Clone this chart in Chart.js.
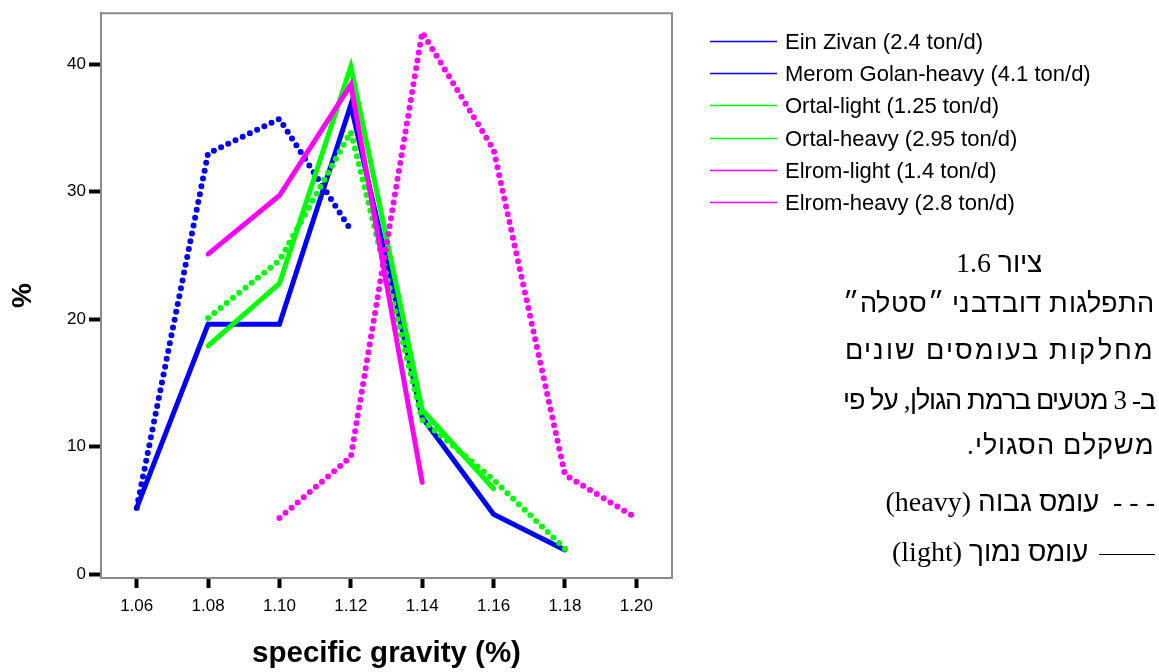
<!DOCTYPE html>
<html>
<head>
<meta charset="utf-8">
<script src="https://cdn.jsdelivr.net/npm/chart.js@4.4.1/dist/chart.umd.min.js"></script>
<style>
  @font-face {
    font-family: "HebSans";
    src: local("Liberation Sans"), local("LiberationSans-Regular"), local("DejaVu Sans");
    unicode-range: U+0590-05FF, U+FB1D-FB4F;
  }
  body { margin: 0; background: #fff; }
  #wrap { position: relative; width: 1159px; height: 672px; overflow: hidden; }
  #wrap canvas { position: absolute; left: 0; top: 0; }
  .heb {
    position: absolute; left: 800px; width: 355px; height: 34px;
    font-family: "HebSans", "Liberation Serif", serif; font-size: 27px; line-height: 34px;
    direction: rtl; text-align: right; color: #000; white-space: nowrap;
  }
  .heb.title { left: 843px; width: 312px; text-align: center; font-size: 28px; }
  .heb.key { font-size: 28px; }
  .rule { display: inline-block; width: 56px; border-top: 1px solid #000; vertical-align: middle; margin-left: 4px; }
</style>
</head>
<body>
<div id="wrap">
  <canvas id="chart" width="1159" height="672"></canvas>
  <div class="heb title" style="top:246px">ציור 1.6</div>
  <div class="heb fit" data-w="312" style="top:286px"><span>התפלגות דובדבני ״סטלה״</span></div>
  <div class="heb fit" data-w="310" style="top:333px"><span>מחלקות בעומסים שונים</span></div>
  <div class="heb fit" data-w="312" style="top:383px"><span>ב- 3 מטעים ברמת הגולן, על פי</span></div>
  <div class="heb fit" data-w="188" style="top:428px"><span>משקלם הסגולי.</span></div>
  <div class="heb key" style="top:485px">- - -&nbsp; עומס גבוה (heavy)</div>
  <div class="heb key" style="top:535px"><span class="rule"></span> עומס נמוך (light)</div>
</div>
<script>
// caption lines: stretch letter spacing so each line keeps its width
document.querySelectorAll('.fit').forEach(el => {
  const w = el.firstElementChild.getBoundingClientRect().width;
  const n = el.textContent.length;
  el.style.letterSpacing = ((+el.dataset.w - w) / n).toFixed(2) + 'px';
});

// specific gravity classes on the x axis
const xValues = [1.06, 1.08, 1.10, 1.12, 1.14, 1.16, 1.18, 1.20];
const xTickLabels = ['1.06', '1.08', '1.10', '1.12', '1.14', '1.16', '1.18', '1.20'];
const yTicks = [0, 10, 20, 30, 40];

const seriesNames = [
  'Ein Zivan (2.4 ton/d)',
  'Merom Golan-heavy (4.1 ton/d)',
  'Ortal-light (1.25 ton/d)',
  'Ortal-heavy (2.95 ton/d)',
  'Elrom-light (1.4 ton/d)',
  'Elrom-heavy (2.8 ton/d)'
];

// % of fruit per class, null = no value
const einZivan        = [5.2, 19.6, 19.6, 36.8, 12.3, 4.7, 1.9, null];
const meromGolanHeavy = [5.2, 33.0, 35.7, 27.0, null, null, null, null];
const ortalLight      = [null, 17.9, 22.8, 39.8, 12.9, 6.7, null, null];
const ortalHeavy      = [null, 20.1, 24.6, 34.7, 12.1, 7.4, 2.0, null];
const elromLight      = [null, 25.1, 29.7, 38.4, 7.2, null, null, null];
const elromHeavy      = [null, null, 4.4, 9.2, 42.5, 33.3, 7.8, 4.4];

const allSeries = [einZivan, meromGolanHeavy, ortalLight, ortalHeavy, elromLight, elromHeavy];

const blue = '#0000ff';
const green = '#00ff00';
const magenta = '#ff00ff';
const lineColors = [blue, blue, green, green, magenta, magenta];
const dotted = [false, true, false, true, false, true];

const points = vals => vals.map((v, i) => ({ x: xValues[i], y: v }));

const datasets = allSeries.map((vals, i) => ({
  label: seriesNames[i],
  data: points(vals),
  borderColor: lineColors[i],
  backgroundColor: lineColors[i],
  borderWidth: dotted[i] ? 6 : 5,
  borderDash: dotted[i] ? [0, 8] : [],
  borderCapStyle: 'round',
  borderJoinStyle: dotted[i] ? 'round' : 'miter',
  pointRadius: 0,
  tension: 0,
  order: allSeries.length - i
}));

const frameColor = '#8a8a8a';
const sans = '"Liberation Sans", Arial, sans-serif';

// top and right edge of the plot frame
const framePlugin = {
  id: 'frame',
  afterDraw(chart) {
    const { ctx, chartArea: a } = chart;
    ctx.save();
    ctx.strokeStyle = frameColor;
    ctx.lineWidth = 2;
    ctx.beginPath();
    ctx.moveTo(a.left, a.top);
    ctx.lineTo(a.right, a.top);
    ctx.lineTo(a.right, a.bottom);
    ctx.stroke();
    ctx.restore();
  }
};

// legend list on the right side
const sideLegend = {
  id: 'sideLegend',
  afterDraw(chart) {
    const ctx = chart.ctx;
    ctx.save();
    ctx.font = '22px ' + sans;
    ctx.textBaseline = 'middle';
    chart.data.datasets.forEach((ds, i) => {
      const y = Math.round(41 + i * 32.2) + 0.5;
      ctx.strokeStyle = ds.borderColor;
      ctx.lineWidth = 1.5;
      ctx.beginPath();
      ctx.moveTo(710, y);
      ctx.lineTo(777, y);
      ctx.stroke();
      ctx.fillStyle = '#000';
      ctx.fillText(ds.label, 785, y + 1);
    });
    ctx.restore();
  }
};

const tickFont = { family: sans, size: 17 };

new Chart(document.getElementById('chart'), {
  type: 'line',
  data: { datasets },
  options: {
    responsive: false,
    animation: false,
    devicePixelRatio: 1,
    layout: { padding: { top: 8, right: 487, left: 0, bottom: 0 } },
    plugins: { legend: { display: false }, tooltip: { enabled: false } },
    scales: {
      x: {
        type: 'linear',
        min: 1.05,
        max: 1.21,
        afterBuildTicks: s => { s.ticks = xValues.map(v => ({ value: v })); },
        afterFit: s => { s.height = 94; },
        ticks: {
          callback: (v, i) => xTickLabels[i],
          font: tickFont, color: '#000', padding: 8,
          maxRotation: 0, autoSkip: false
        },
        grid: { drawOnChartArea: false, drawTicks: true, tickLength: 10, tickWidth: 4, tickColor: '#000' },
        border: { display: true, color: frameColor, width: 2 },
        title: {
          display: true, text: 'specific gravity (%)', color: '#000',
          font: { family: sans, size: 29.5, weight: 'bold' },
          padding: { bottom: 0 }
        }
      },
      y: {
        min: -0.3,
        max: 44,
        afterBuildTicks: s => { s.ticks = yTicks.map(v => ({ value: v })); },
        afterFit: s => { s.width = 101; },
        ticks: { font: tickFont, color: '#000', padding: 3 },
        grid: { drawOnChartArea: false, drawTicks: true, tickLength: 12, tickWidth: 4, tickColor: '#000' },
        border: { display: true, color: frameColor, width: 2 },
        title: {
          display: true, text: '%', color: '#000',
          font: { family: sans, size: 28, weight: 'bold' },
          padding: { top: 6 }
        }
      }
    }
  },
  plugins: [framePlugin, sideLegend]
});
</script>
</body>
</html>
